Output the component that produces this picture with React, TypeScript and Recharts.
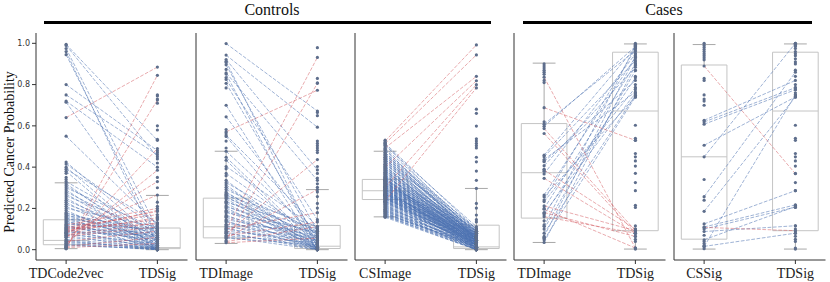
import React from 'react';
import { ComposedChart, XAxis, YAxis, Scatter, ReferenceLine, ReferenceArea } from 'recharts';

type Pair = [number, number];

// ---- panel 1: controls, TDCode2vec vs TDSig ----
const p1Cats = ['TDCode2vec', 'TDSig'];
const p1Pairs: Pair[] = [
  [0.995, 0.53], [0.99, 0.45], [0.975, 0.1], [0.96, 0.02], [0.945, 0.06],
  [0.8, 0.48], [0.75, 0.46], [0.72, 0.4], [0.715, 0.09], [0.55, 0.12],
  [0.425, 0.05], [0.415, 0.1], [0.4, 0.02], [0.39, 0.13], [0.38, 0.0],
  [0.33, 0.08], [0.32, 0.01], [0.31, 0.04], [0.3, 0.1], [0.29, 0.0], [0.28, 0.06],
  [0.27, 0.02], [0.26, 0.09], [0.25, 0.01], [0.24, 0.05], [0.23, 0.0], [0.22, 0.07],
  [0.21, 0.03], [0.2, 0.11], [0.19, 0.0], [0.18, 0.04], [0.175, 0.08], [0.17, 0.02],
  [0.165, 0.1], [0.16, 0.06], [0.155, 0.01], [0.15, 0.09], [0.145, 0.05], [0.14, 0.0],
  [0.135, 0.07], [0.13, 0.03], [0.125, 0.1], [0.12, 0.01], [0.115, 0.06], [0.11, 0.04],
  [0.105, 0.08], [0.1, 0.0], [0.095, 0.05], [0.09, 0.02], [0.085, 0.07], [0.08, 0.01],
  [0.075, 0.03], [0.07, 0.0], [0.06, 0.02], [0.05, 0.01], [0.045, 0.0], [0.035, 0.01],
  [0.025, 0.0], [0.04, 0.005], [0.03, 0.0], [0.02, 0.005],
  [0.64, 0.885], [0.005, 0.845], [0.01, 0.725], [0.02, 0.49], [0.03, 0.385],
  [0.06, 0.33], [0.08, 0.265], [0.09, 0.19], [0.1, 0.185], [0.11, 0.17],
  [0.085, 0.155], [0.095, 0.145], [0.07, 0.13], [0.12, 0.2], [0.105, 0.125],
  [0.065, 0.11], [0.04, 0.09], [0.015, 0.06], [0.01, 0.03],
];
const p1ExtraA = [0.37, 0.35, 0.34, 0.005, 0.01, 0.015];
const p1ExtraB = [0.75, 0.745, 0.73, 0.71, 0.6, 0.58, 0.535, 0.47, 0.44, 0.42, 0.35, 0.3, 0.23, 0.21, 0.16, 0.15];
const p1BoxA = [0.005, 0.024, 0.045, 0.145, 0.324];
const p1BoxB = [0.0, 0.005, 0.01, 0.105, 0.263];

// ---- panel 2: controls, TDImage vs TDSig ----
const p2Cats = ['TDImage', 'TDSig'];
const p2Pairs: Pair[] = [
  [0.892, 0.6], [0.842, 0.53], [0.823, 0.345], [0.815, 0.02], [0.8, 0.08], [0.765, 0.3],
  [0.76, 0.01], [0.737, 0.13], [0.72, 0.04], [0.625, 0.0], [0.575, 0.06], [0.496, 0.1],
  [0.49, 0.03], [0.426, 0.06], [0.4, 0.02], [0.387, 0.005], [0.36, 0.09], [0.33, 0.05],
  [0.3, 0.01], [0.29, 0.07], [0.28, 0.0], [0.27, 0.03], [0.26, 0.08], [0.25, 0.01],
  [0.245, 0.05], [0.24, 0.0], [0.235, 0.1], [0.23, 0.02], [0.225, 0.06], [0.22, 0.0],
  [0.21, 0.04], [0.205, 0.09], [0.2, 0.01], [0.19, 0.03], [0.185, 0.07], [0.18, 0.0],
  [0.17, 0.05], [0.165, 0.02], [0.16, 0.08], [0.15, 0.0], [0.145, 0.04], [0.14, 0.01],
  [0.13, 0.06], [0.125, 0.0], [0.12, 0.03], [0.11, 0.08], [0.105, 0.01], [0.1, 0.05],
  [0.095, 0.0], [0.09, 0.02], [0.08, 0.04], [0.075, 0.0], [0.07, 0.01], [0.06, 0.03],
  [0.055, 0.0], [0.05, 0.02],
  [0.51, 0.69], [0.085, 0.832], [0.04, 0.72], [0.07, 0.39], [0.05, 0.26],
  [0.09, 0.16], [0.06, 0.12], [0.035, 0.1], [0.03, 0.05],
];
const p2ExtraA = [0.81, 0.78, 0.745, 0.7, 0.52, 0.505, 0.47, 0.44, 0.35, 0.32];
const p2ExtraB = [0.874, 0.741, 0.722, 0.594, 0.58, 0.47, 0.46, 0.45, 0.44, 0.43, 0.42, 0.36, 0.33, 0.31, 0.285, 0.27, 0.25, 0.23, 0.2, 0.18];
const p2BoxA = [0.027, 0.051, 0.099, 0.223, 0.426];
const p2BoxB = [0.0, 0.005, 0.015, 0.105, 0.26];

// ---- panel 3: controls, CSImage vs TDSig ----
const p3Cats = ['CSImage', 'TDSig'];
const p3Pairs: Pair[] = [
  [0.46, 0.09], [0.455, 0.06], [0.45, 0.1], [0.44, 0.08], [0.435, 0.04], [0.43, 0.07],
  [0.42, 0.09], [0.415, 0.05], [0.41, 0.06], [0.4, 0.08], [0.395, 0.03], [0.39, 0.07],
  [0.385, 0.05], [0.38, 0.09], [0.375, 0.04], [0.37, 0.06], [0.365, 0.02], [0.36, 0.07],
  [0.355, 0.05], [0.35, 0.08], [0.345, 0.03], [0.34, 0.06], [0.335, 0.04], [0.33, 0.07],
  [0.325, 0.02], [0.32, 0.05], [0.315, 0.06], [0.31, 0.03], [0.305, 0.08], [0.3, 0.04],
  [0.295, 0.01], [0.29, 0.06], [0.285, 0.03], [0.28, 0.05], [0.275, 0.02], [0.27, 0.07],
  [0.265, 0.04], [0.26, 0.01], [0.255, 0.05], [0.25, 0.03], [0.245, 0.06], [0.24, 0.02],
  [0.235, 0.04], [0.23, 0.0], [0.225, 0.05], [0.22, 0.03], [0.215, 0.01], [0.21, 0.04],
  [0.205, 0.02], [0.2, 0.05], [0.195, 0.0], [0.19, 0.03], [0.185, 0.01], [0.18, 0.04],
  [0.175, 0.02], [0.17, 0.0], [0.165, 0.03], [0.16, 0.01], [0.155, 0.02], [0.15, 0.0],
  [0.145, 0.01], [0.14, 0.0], [0.29, 0.02], [0.28, 0.08], [0.27, 0.01], [0.26, 0.06],
  [0.25, 0.0], [0.24, 0.07], [0.23, 0.03], [0.22, 0.06], [0.285, 0.07], [0.275, 0.04],
  [0.265, 0.0], [0.255, 0.02], [0.245, 0.04], [0.235, 0.01], [0.225, 0.02], [0.3, 0.06],
  [0.31, 0.0], [0.295, 0.05], [0.305, 0.02], [0.315, 0.09], [0.26, 0.03], [0.24, 0.05],
  [0.42, 0.07], [0.41, 0.09], [0.405, 0.05], [0.4, 0.06], [0.39, 0.08], [0.38, 0.05],
  [0.37, 0.08], [0.36, 0.04], [0.35, 0.06], [0.34, 0.08], [0.33, 0.05], [0.32, 0.07],
  [0.31, 0.05], [0.3, 0.07], [0.295, 0.03], [0.29, 0.04], [0.285, 0.05], [0.28, 0.02],
  [0.275, 0.06], [0.27, 0.04], [0.265, 0.06], [0.26, 0.04], [0.255, 0.03], [0.25, 0.05],
  [0.245, 0.02], [0.24, 0.04], [0.235, 0.03], [0.23, 0.05], [0.225, 0.01], [0.22, 0.04],
  [0.215, 0.03], [0.21, 0.02], [0.205, 0.04], [0.2, 0.02], [0.195, 0.03], [0.19, 0.01],
  [0.185, 0.03], [0.18, 0.01], [0.175, 0.0], [0.17, 0.02], [0.165, 0.01], [0.16, 0.0],
  [0.155, 0.01], [0.15, 0.02], [0.145, 0.0], [0.345, 0.05], [0.335, 0.07], [0.325, 0.04],
  [0.315, 0.06], [0.305, 0.05], [0.3, 0.03], [0.29, 0.06], [0.28, 0.04], [0.27, 0.05],
  [0.26, 0.02], [0.25, 0.04], [0.24, 0.03], [0.23, 0.02], [0.22, 0.01], [0.21, 0.0],
  [0.47, 0.886], [0.459, 0.843], [0.44, 0.75], [0.356, 0.731], [0.27, 0.714], [0.21, 0.7],
];
const p3ExtraA = [0.474, 0.465, 0.45];
const p3ExtraB = [0.608, 0.59, 0.535, 0.48, 0.47, 0.46, 0.45, 0.44, 0.4, 0.38, 0.34, 0.3, 0.265, 0.2, 0.18, 0.15, 0.13, 0.12];
const p3BoxA = [0.142, 0.217, 0.255, 0.304, 0.426];
const p3BoxB = [0.0, 0.005, 0.012, 0.106, 0.265];

// ---- panel 4: cases, TDImage vs TDSig ----
const p4Cats = ['TDImage', 'TDSig'];
const p4Pairs: Pair[] = [
  [0.608, 0.965], [0.598, 0.984], [0.458, 0.98], [0.45, 0.916], [0.437, 0.764],
  [0.426, 0.82], [0.407, 0.884], [0.367, 0.949], [0.265, 0.932], [0.257, 0.74],
  [0.241, 0.973], [0.233, 0.785], [0.2, 0.9], [0.177, 0.759], [0.169, 0.833],
  [0.113, 0.989], [0.1, 0.868], [0.08, 0.748], [0.064, 0.936], [0.048, 0.74], [0.035, 0.892],
  [0.836, 0.008], [0.688, 0.53], [0.587, 0.092], [0.563, 0.08], [0.386, 0.1],
  [0.346, 0.08], [0.212, 0.092], [0.196, 0.008], [0.18, 0.064], [0.16, 0.08],
];
const p4ExtraA = [0.9, 0.89, 0.88, 0.87, 0.86, 0.85, 0.82, 0.81, 0.62, 0.43, 0.39, 0.38, 0.14, 0.12, 0.06, 0.055];
const caseSigExtra = [1.0, 0.995, 0.99, 0.985, 0.975, 0.96, 0.95, 0.94, 0.925, 0.91, 0.9, 0.87, 0.84, 0.8, 0.785, 0.775, 0.76, 0.75, 0.74, 0.603, 0.54, 0.53, 0.466, 0.45, 0.43, 0.405, 0.37, 0.325, 0.286, 0.215, 0.205, 0.115, 0.1, 0.09, 0.08, 0.065, 0.05, 0.04, 0.008, 0.003];
const p4BoxA = [0.035, 0.153, 0.373, 0.611, 0.904];
const caseSigBox = [0.003, 0.092, 0.672, 0.957, 0.997];

// ---- panel 5: cases, CSSig vs TDSig ----
const p5Cats = ['CSSig', 'TDSig'];
const p5Pairs: Pair[] = [
  [0.627, 0.82], [0.619, 0.785], [0.608, 0.775], [0.506, 0.74], [0.45, 1.0],
  [0.257, 0.86], [0.186, 0.74], [0.125, 0.286], [0.11, 0.217], [0.1, 0.206],
  [0.088, 0.116], [0.015, 0.75], [0.048, 0.209], [0.016, 0.08],
  [0.89, 0.368], [0.108, 0.092],
];
const p5ExtraA = [1.0, 0.99, 0.98, 0.97, 0.96, 0.95, 0.94, 0.93, 0.92, 0.83, 0.82, 0.75, 0.73, 0.72, 0.7, 0.34, 0.24, 0.07, 0.04, 0.03, 0.02, 0.005];
const p5BoxA = [0.003, 0.051, 0.45, 0.895, 0.994];

const fullTicks = [0, 0.2, 0.4, 0.6, 0.8, 1.0];
const shortTicks = [0, 0.2, 0.4, 0.6, 0.8];

const panels = [
  { cats: p1Cats, pairs: p1Pairs, extraA: p1ExtraA, extraB: p1ExtraB, boxA: p1BoxA, boxB: p1BoxB, domain: [-0.05, 1.05], ticks: fullTicks, isCase: false },
  { cats: p2Cats, pairs: p2Pairs, extraA: p2ExtraA, extraB: p2ExtraB, boxA: p2BoxA, boxB: p2BoxB, domain: [-0.0447, 0.9377], ticks: shortTicks, isCase: false },
  { cats: p3Cats, pairs: p3Pairs, extraA: p3ExtraA, extraB: p3ExtraB, boxA: p3BoxA, boxB: p3BoxB, domain: [-0.0447, 0.9377], ticks: shortTicks, isCase: false },
  { cats: p4Cats, pairs: p4Pairs, extraA: p4ExtraA, extraB: caseSigExtra, boxA: p4BoxA, boxB: caseSigBox, domain: [-0.05, 1.05], ticks: fullTicks, isCase: true },
  { cats: p5Cats, pairs: p5Pairs, extraA: p5ExtraA, extraB: caseSigExtra, boxA: p5BoxA, boxB: caseSigBox, domain: [-0.05, 1.05], ticks: fullTicks, isCase: true },
];

const panelLeft = [36, 195.5, 355, 514, 674];
const PANEL_W = 151.5;
const AXIS_W = 36;
const X_DOMAIN = [-0.33, 1.33];
const SERIF = 'Liberation Serif';

const BLUE = '#4c72b0';
const RED = '#d2545a';
const DOT = '#5e6e8c';
const BOX = '#c4c4c4';
const WHISK = '#a8a8a8';
const FRAME = '#333';

const dot = (p: any) => <circle cx={p.cx} cy={p.cy} r={1.6} fill={DOT} />;

function boxElems(stats: number[], c: number, key: string) {
  const [lo, q1, med, q3, hi] = stats;
  return [
    <ReferenceLine key={key + 'w1'} segment={[{ x: c, y: q3 }, { x: c, y: hi }]} stroke={WHISK} strokeWidth={1} />,
    <ReferenceLine key={key + 'w2'} segment={[{ x: c, y: lo }, { x: c, y: q1 }]} stroke={WHISK} strokeWidth={1} />,
    <ReferenceLine key={key + 'c1'} segment={[{ x: c - 0.125, y: hi }, { x: c + 0.125, y: hi }]} stroke={WHISK} strokeWidth={1} />,
    <ReferenceLine key={key + 'c2'} segment={[{ x: c - 0.125, y: lo }, { x: c + 0.125, y: lo }]} stroke={WHISK} strokeWidth={1} />,
    <ReferenceArea key={key + 'b'} x1={c - 0.25} x2={c + 0.25} y1={q1} y2={q3} fill="none" fillOpacity={0} stroke={BOX} strokeWidth={1} strokeOpacity={1} />,
    <ReferenceLine key={key + 'm'} segment={[{ x: c - 0.25, y: med }, { x: c + 0.25, y: med }]} stroke={BOX} strokeWidth={1} />,
  ];
}

function Panel({ idx }: { idx: number }) {
  const p = panels[idx];
  const ptsA = [...p.pairs.map((d) => d[0]), ...p.extraA].map((y) => ({ x: 0, y }));
  const ptsB = [...p.pairs.map((d) => d[1]), ...p.extraB].map((y) => ({ x: 1, y }));
  const first = idx === 0;
  return (
    <ComposedChart width={AXIS_W + PANEL_W + 2} height={282} margin={{ top: 33, right: 2, bottom: 0, left: 0 }} style={{ fontFamily: SERIF }}>
      <XAxis
        type="number"
        dataKey="x"
        domain={X_DOMAIN}
        allowDataOverflow
        ticks={[0, 1]}
        interval={0}
        tickFormatter={(v: number) => p.cats[v]}
        height={22}
        tickSize={4}
        tickMargin={4}
        stroke={FRAME}
        tick={{ fill: '#222', fontSize: 14, fontFamily: SERIF }}
      />
      <XAxis xAxisId="top" orientation="top" type="number" domain={X_DOMAIN} allowDataOverflow height={0} tick={false} tickLine={false} stroke={FRAME} />
      <YAxis
        type="number"
        dataKey="y"
        domain={p.domain}
        allowDataOverflow
        ticks={p.ticks}
        interval={0}
        width={AXIS_W}
        tickSize={4}
        tickMargin={2}
        stroke={FRAME}
        tickFormatter={(v: number) => v.toFixed(1)}
        tick={first ? { fill: '#333', fontSize: 8, fontFamily: 'DejaVu Sans' } : false}
      />
      <YAxis yAxisId="right" orientation="right" type="number" domain={p.domain} allowDataOverflow width={0} tick={false} tickLine={false} stroke={FRAME} />
      {boxElems(p.boxA, 0, 'a')}
      {boxElems(p.boxB, 1, 'b')}
      <Scatter data={ptsA} fill={DOT} shape={dot} isAnimationActive={false} />
      <Scatter data={ptsB} fill={DOT} shape={dot} isAnimationActive={false} />
      {p.pairs.map(([a, b], i) => {
        const good = p.isCase ? b > a : b < a;
        return (
          <ReferenceLine
            key={'l' + i}
            segment={[{ x: 0, y: a }, { x: 1, y: b }]}
            stroke={good ? BLUE : RED}
            strokeOpacity={good ? 0.6 : 0.55}
            strokeWidth={0.9}
            strokeDasharray="3.7 1.6"
          />
        );
      })}
    </ComposedChart>
  );
}

export default function App() {
  return (
    <div style={{ position: 'absolute', left: 0, top: 0, width: 830, height: 282, background: '#fff', fontFamily: SERIF, color: '#111' }}>
      {panels.map((_, i) => (
        <div key={i} style={{ position: 'absolute', left: panelLeft[i] - AXIS_W, top: 0 }}>
          <Panel idx={i} />
        </div>
      ))}
      <div style={{ position: 'absolute', left: 9.5, top: 151.5, transform: 'translate(-50%, -50%) rotate(-90deg)', whiteSpace: 'nowrap', fontSize: 14, lineHeight: '14px', fontFamily: SERIF }}>
        Predicted Cancer Probability
      </div>
      <div style={{ position: 'absolute', left: 272, top: 2, transform: 'translateX(-50%)', fontSize: 16, lineHeight: '16px', fontFamily: SERIF }}>Controls</div>
      <div style={{ position: 'absolute', left: 664, top: 2, transform: 'translateX(-50%)', fontSize: 16, lineHeight: '16px', fontFamily: SERIF }}>Cases</div>
      <div style={{ position: 'absolute', left: 44, top: 20.5, width: 447, height: 3, background: '#000' }} />
      <div style={{ position: 'absolute', left: 523, top: 20.5, width: 289, height: 3, background: '#000' }} />
    </div>
  );
}
